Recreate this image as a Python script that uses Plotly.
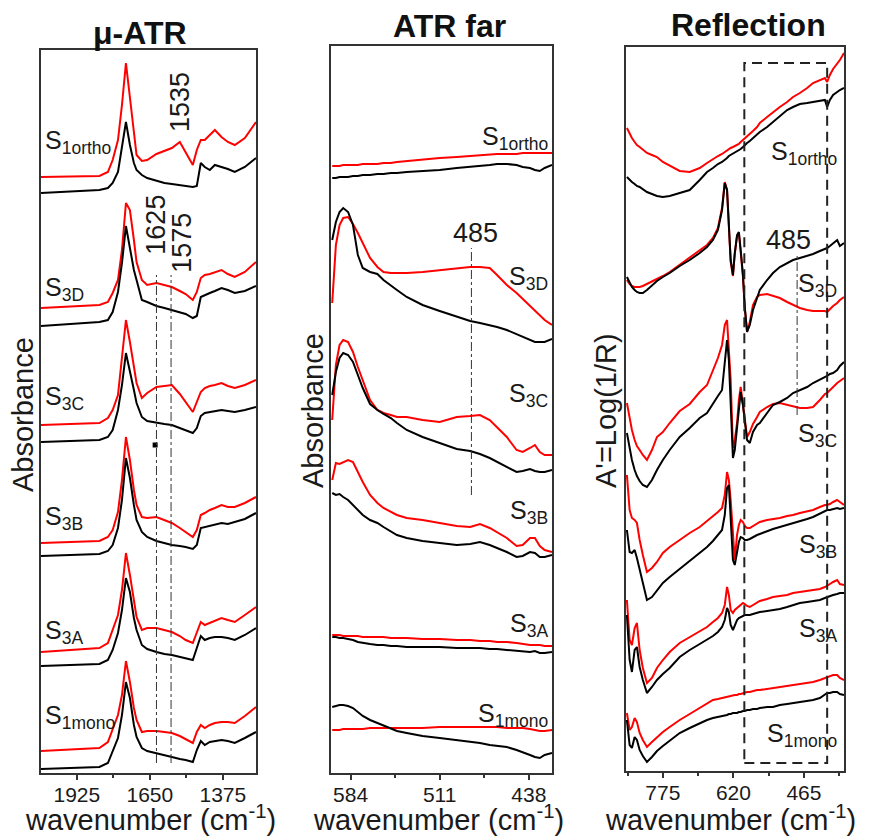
import plotly.graph_objects as go

W, H = 875, 836

# ---------------- DATA ----------------
samples = ["1ortho", "3D", "3C", "3B", "3A", "1mono"]

# Panel 1: micro-ATR (absorbance, arbitrary units incl. stacking offset)
atr_wn = [2060, 1840, 1808, 1790, 1770, 1755, 1740, 1725, 1710, 1700, 1680, 1660, 1625, 1595,
          1567, 1537, 1515, 1488, 1473, 1458, 1443, 1424, 1405, 1380, 1356, 1330, 1292, 1250]
atr_1ortho_red = [623, 624, 628, 640, 660, 695, 737, 700, 665, 645, 639, 640, 646, 649, 652, 658, 648, 635, 650, 660, 660, 665, 670, 663, 658, 655, 662, 678]
atr_1ortho_blk = [607, 610, 612, 617, 628, 655, 678, 655, 637, 630, 625, 622, 619, 617, 616, 615, 614, 613, 614, 637, 633, 630, 635, 633, 631, 628, 633, 642]
atr_3D_red = [492, 495, 498, 507, 520, 550, 597, 590, 560, 538, 520, 515, 517, 515, 513, 509, 506, 500, 508, 522, 525, 526, 528, 530, 526, 523, 528, 538]
atr_3D_blk = [474, 478, 480, 488, 508, 537, 574, 552, 530, 520, 500, 498, 494, 492, 490, 488, 486, 482, 484, 503, 505, 507, 509, 512, 510, 507, 509, 514]
atr_3C_red = [375, 377, 382, 390, 405, 440, 480, 458, 435, 417, 402, 407, 413, 414, 415, 406, 398, 388, 398, 408, 412, 414, 415, 417, 414, 412, 415, 420]
atr_3C_blk = [358, 360, 363, 370, 390, 415, 447, 430, 410, 397, 383, 379, 377, 376, 375, 372, 370, 367, 372, 384, 387, 388, 389, 390, 389, 388, 390, 393]
atr_3B_red = [257, 259, 263, 270, 288, 320, 363, 340, 310, 295, 283, 282, 283, 280, 277, 272, 268, 263, 270, 285, 287, 290, 292, 295, 293, 293, 297, 303]
atr_3B_blk = [244, 246, 249, 255, 272, 300, 342, 322, 295, 280, 268, 263, 259, 257, 255, 254, 253, 251, 255, 272, 273, 274, 275, 277, 276, 278, 281, 287]
atr_3A_red = [148, 152, 157, 170, 185, 210, 247, 225, 197, 183, 170, 172, 172, 170, 168, 164, 160, 157, 168, 178, 175, 177, 179, 182, 180, 178, 185, 193]
atr_3A_blk = [134, 136, 140, 150, 167, 190, 222, 208, 182, 170, 155, 151, 148, 146, 145, 143, 142, 140, 152, 164, 160, 162, 163, 163, 162, 160, 165, 172]
atr_1mono_red = [49, 52, 58, 70, 85, 105, 139, 118, 92, 80, 68, 69, 69, 68, 67, 64, 61, 57, 68, 75, 72, 75, 77, 78, 78, 77, 84, 93]
atr_1mono_blk = [31, 33, 37, 48, 62, 85, 118, 102, 75, 63, 52, 49, 47, 45, 43, 41, 40, 38, 50, 59, 55, 58, 59, 60, 59, 57, 62, 68]

# Panel 2: far-IR ATR
far_wn = [599, 596, 593, 590, 586, 582, 578, 574, 568, 562, 557, 551, 546, 538, 525,
          511, 497, 486, 478, 470, 464, 456, 448, 443, 437, 433, 429, 425, 419]
far_1ortho_red = [634, 634, 634, 635, 635, 635, 635, 636, 636, 636, 637, 637, 638, 639, 640, 642, 643, 644, 645, 646, 646, 646, 646, 647, 647, 647, 647, 647, 647]
far_1ortho_blk = [622, 622, 623, 623, 623, 624, 624, 625, 625, 626, 626, 627, 627, 628, 629, 630, 632, 633, 634, 635, 636, 636, 635, 633, 632, 630, 629, 632, 635]
far_3D_red = [497, 555, 575, 582, 583, 576, 567, 557, 542, 533, 528, 527, 527, 527, 528, 530, 532, 533, 533, 532, 525, 515, 507, 501, 494, 489, 484, 480, 475]
far_3D_blk = [560, 578, 588, 592, 588, 575, 545, 532, 528, 526, 520, 515, 510, 503, 495, 489, 483, 479, 477, 475, 473, 470, 466, 463, 460, 458, 458, 458, 461]
far_3C_red = [380, 435, 455, 460, 458, 448, 433, 420, 400, 390, 387, 385, 383, 383, 380, 378, 383, 384, 385, 380, 373, 363, 350, 348, 352, 355, 348, 345, 345]
far_3C_blk = [405, 428, 442, 447, 445, 438, 425, 412, 396, 390, 386, 382, 377, 370, 363, 357, 351, 349, 346, 342, 338, 333, 328, 329, 331, 329, 328, 328, 330]
far_3B_red = [320, 337, 336, 338, 340, 338, 328, 318, 305, 297, 292, 288, 285, 282, 280, 277, 274, 273, 276, 272, 268, 262, 254, 255, 262, 262, 254, 250, 248]
far_3B_blk = [307, 305, 306, 303, 300, 295, 290, 285, 280, 277, 273, 269, 265, 262, 259, 257, 255, 256, 258, 255, 252, 248, 243, 244, 248, 247, 243, 243, 245]
far_3A_red = [165, 165, 165, 164, 164, 164, 164, 163, 163, 163, 163, 162, 162, 162, 161, 161, 160, 160, 159, 159, 158, 158, 157, 156, 155, 155, 155, 154, 154]
far_3A_blk = [163, 163, 162, 162, 161, 160, 158, 157, 156, 155, 155, 154, 154, 153, 153, 153, 152, 152, 152, 151, 151, 150, 149, 148, 148, 149, 147, 147, 148]
far_1mono_red = [70, 70, 70, 71, 71, 71, 71, 71, 72, 72, 72, 72, 72, 72, 72, 73, 73, 73, 73, 73, 73, 72, 72, 72, 71, 70, 69, 69, 70]
far_1mono_blk = [93, 94, 95, 95, 94, 92, 88, 84, 80, 77, 74, 71, 69, 67, 64, 62, 60, 58, 57, 55, 54, 53, 50, 48, 45, 43, 42, 45, 47]

# Panel 3: reflection, A' = log(1/R)
ref_wn = [854, 848, 843, 837, 832, 826, 819, 810, 799, 788, 775, 760, 738, 716, 694, 678, 665,
          654, 645, 639, 634, 630, 626, 621, 617, 612, 608, 604, 599, 595, 590, 584, 577, 568,
          562, 546, 533, 518, 502, 489, 474, 458, 445, 430, 419, 414, 408, 401, 392, 386, 377]
ref_1ortho_red = [672, 666, 662, 658, 655, 653, 650, 647, 645, 643, 638, 634, 629, 628, 632, 637, 641, 644, 646, 648, 650, 651, 652, 653, 654, 655, 656, 658, 660, 661, 663, 666, 669, 673, 677, 683, 688, 693, 698, 703, 707, 712, 717, 720, 722, 718, 725, 731, 736, 740, 747]
ref_1ortho_blk = [623, 620, 618, 616, 614, 613, 611, 608, 606, 604, 603, 604, 607, 610, 620, 628, 632, 636, 638, 640, 642, 644, 645, 646, 647, 649, 650, 651, 653, 655, 657, 659, 662, 666, 668, 673, 678, 683, 690, 693, 696, 697, 698, 699, 700, 693, 700, 705, 708, 710, 712]
ref_3D_red = [520, 516, 514, 513, 513, 513, 514, 516, 519, 521, 524, 528, 535, 542, 549, 555, 562, 572, 592, 618, 610, 578, 538, 524, 546, 564, 567, 548, 523, 492, 468, 478, 495, 503, 505, 506, 504, 502, 498, 495, 492, 490, 489, 489, 489, 488, 491, 494, 497, 500, 503]
ref_3D_blk = [523, 517, 513, 510, 508, 507, 507, 510, 515, 519, 523, 527, 534, 540, 547, 553, 560, 570, 590, 617, 610, 580, 540, 525, 547, 565, 568, 550, 525, 493, 468, 475, 490, 502, 510, 520, 527, 533, 537, 540, 542, 544, 546, 549, 551, 552, 554, 557, 560, 554, 557]
ref_3C_red = [397, 380, 370, 360, 354, 350, 345, 340, 350, 363, 368, 377, 389, 396, 408, 415, 430, 442, 455, 475, 480, 455, 420, 352, 360, 377, 400, 413, 395, 380, 363, 368, 376, 383, 388, 393, 396, 397, 395, 394, 392, 392, 393, 400, 406, 407, 410, 413, 417, 419, 422]
ref_3C_blk = [367, 350, 340, 330, 324, 319, 315, 313, 320, 330, 340, 350, 363, 372, 382, 387, 397, 404, 410, 440, 460, 440, 400, 342, 350, 375, 395, 408, 395, 377, 360, 357, 368, 375, 377, 387, 395, 398, 402, 407, 410, 413, 417, 420, 423, 424, 426, 427, 430, 434, 438]
ref_3B_red = [325, 290, 282, 280, 277, 260, 245, 228, 232, 238, 247, 253, 260, 267, 273, 279, 283, 288, 292, 305, 328, 320, 300, 260, 240, 265, 275, 280, 278, 274, 272, 272, 274, 276, 278, 280, 281, 282, 284, 285, 287, 289, 290, 293, 295, 295, 296, 298, 300, 298, 295]
ref_3B_blk = [270, 248, 247, 250, 242, 230, 218, 200, 203, 210, 217, 223, 231, 239, 247, 253, 259, 265, 270, 285, 312, 315, 280, 240, 235, 250, 258, 263, 262, 260, 260, 261, 263, 265, 266, 269, 271, 273, 275, 277, 279, 281, 283, 286, 289, 290, 290, 291, 292, 291, 292]
ref_3A_red = [200, 160, 155, 172, 177, 150, 132, 117, 122, 132, 140, 148, 157, 163, 169, 173, 178, 182, 187, 195, 213, 205, 190, 187, 190, 192, 194, 196, 197, 196, 194, 193, 195, 197, 199, 201, 203, 204, 205, 207, 208, 209, 210, 211, 213, 214, 216, 218, 220, 216, 215]
ref_3A_blk = [185, 140, 128, 150, 153, 133, 120, 107, 113, 120, 126, 132, 143, 150, 156, 160, 164, 168, 173, 180, 192, 188, 175, 170, 175, 180, 182, 183, 184, 185, 185, 185, 186, 187, 188, 189, 190, 191, 193, 195, 197, 198, 199, 200, 202, 203, 204, 205, 206, 207, 207]
ref_1mono_red = [87, 70, 73, 82, 78, 67, 60, 53, 58, 63, 68, 73, 80, 86, 92, 96, 100, 101, 102, 103, 103, 104, 104, 105, 105, 105, 106, 106, 107, 107, 108, 108, 109, 110, 110, 111, 112, 113, 114, 115, 116, 117, 118, 120, 122, 123, 124, 125, 125, 122, 120]
ref_1mono_blk = [80, 55, 52, 63, 60, 50, 44, 38, 43, 49, 54, 59, 67, 72, 77, 80, 82, 83, 84, 85, 85, 86, 86, 87, 87, 87, 88, 88, 89, 89, 90, 90, 91, 91, 92, 93, 93, 95, 96, 97, 98, 99, 100, 102, 105, 107, 107, 108, 108, 106, 105]

panel_titles = ["\u03bc-ATR", "ATR far", "Reflection"]
y_titles = ["Absorbance", "Absorbance", "A'=Log(1/R)"]
x_title = "wavenumber (cm<sup>-1</sup>)"
atr_ticks = [1925, 1650, 1375]
far_ticks = [584, 511, 438]
ref_ticks = [775, 620, 465]
atr_minor = [1787.5, 1512.5]
far_minor = [547.5, 474.5]
ref_minor = [852.5, 697.5, 542.5, 387.5]

# band markers
atr_bands = [1625, 1570]
atr_band_labels = ["1625", "1575"]
atr_label_1535 = 1535
far_band = 485
ref_band = 480
ref_box_wn = [596, 414]

# ---------------- FIGURE ----------------
FONT = "Arial, Liberation Sans, sans-serif"
RED = "#ff0000"
BLK = "#000000"
TXT = "#1a1a1a"

def px(x):
    return x / W

def py(y):
    return 1 - y / H

panels = [
    dict(ax="x", ay="y", wn=atr_wn,
         red=[atr_1ortho_red, atr_3D_red, atr_3C_red, atr_3B_red, atr_3A_red, atr_1mono_red],
         blk=[atr_1ortho_blk, atr_3D_blk, atr_3C_blk, atr_3B_blk, atr_3A_blk, atr_1mono_blk]),
    dict(ax="x2", ay="y2", wn=far_wn,
         red=[far_1ortho_red, far_3D_red, far_3C_red, far_3B_red, far_3A_red, far_1mono_red],
         blk=[far_1ortho_blk, far_3D_blk, far_3C_blk, far_3B_blk, far_3A_blk, far_1mono_blk]),
    dict(ax="x3", ay="y3", wn=ref_wn,
         red=[ref_1ortho_red, ref_3D_red, ref_3C_red, ref_3B_red, ref_3A_red, ref_1mono_red],
         blk=[ref_1ortho_blk, ref_3D_blk, ref_3C_blk, ref_3B_blk, ref_3A_blk, ref_1mono_blk]),
]

fig = go.Figure()
for p in panels:
    for r, b in zip(p["red"], p["blk"]):
        fig.add_trace(go.Scatter(x=p["wn"], y=r, mode="lines", xaxis=p["ax"], yaxis=p["ay"],
                                 line=dict(color=RED, width=2), showlegend=False, hoverinfo="skip"))
        fig.add_trace(go.Scatter(x=p["wn"], y=b, mode="lines", xaxis=p["ax"], yaxis=p["ay"],
                                 line=dict(color=BLK, width=2), showlegend=False, hoverinfo="skip"))

# small square marker in panel 1
fig.add_trace(go.Scatter(x=[1630], y=[355], mode="markers", xaxis="x", yaxis="y",
                         marker=dict(symbol="square", size=5, color=BLK), showlegend=False, hoverinfo="skip"))

geom = [
    dict(xd=[41, 256], yd=[50, 773], xr=[2060, 1250], yr=[27, 750], ticks=atr_ticks, minor=atr_minor),
    dict(xd=[331, 552], yd=[46, 773], xr=[600, 419], yr=[27, 754], ticks=far_ticks, minor=far_minor),
    dict(xd=[626, 844], yd=[47, 771], xr=[856, 377], yr=[29, 753], ticks=ref_ticks, minor=ref_minor),
]

layout = dict(width=W, height=H, margin=dict(l=0, r=0, t=0, b=0),
              paper_bgcolor="white", plot_bgcolor="white",
              font=dict(family=FONT, color=TXT), showlegend=False)
for i, g in enumerate(geom):
    sfx = "" if i == 0 else str(i + 1)
    layout["xaxis" + sfx] = dict(
        domain=[px(g["xd"][0]), px(g["xd"][1])], range=g["xr"], anchor="y" + sfx,
        tickmode="array", tickvals=g["ticks"], ticktext=[str(t) for t in g["ticks"]],
        ticks="outside", ticklen=5, tickwidth=1.5, tickcolor="#333", ticklabelstandoff=-3,
        minor=dict(tickmode="array", tickvals=g["minor"], ticks="outside", ticklen=3,
                   tickwidth=1.5, tickcolor="#333", showgrid=False),
        tickfont=dict(size=21, family=FONT, color=TXT),
        showline=True, mirror=True, linecolor="#333", linewidth=1.5,
        showgrid=False, zeroline=False)
    layout["yaxis" + sfx] = dict(
        domain=[py(g["yd"][1]), py(g["yd"][0])], range=g["yr"], anchor="x" + sfx,
        showticklabels=False, ticks="", showline=True, mirror=True,
        linecolor="#333", linewidth=1.5, showgrid=False, zeroline=False)
fig.update_layout(**layout)

shapes = []
for xv, top in zip(atr_bands, [525, 525]):
    shapes.append(dict(type="line", xref="x", yref="y", x0=xv, x1=xv, y0=37, y1=top,
                       line=dict(color="#333", width=1, dash="dashdot")))
shapes.append(dict(type="line", xref="x2", yref="y2", x0=far_band, x1=far_band, y0=305, y1=552,
                   line=dict(color="#333", width=1, dash="dashdot")))
shapes.append(dict(type="line", xref="x3", yref="y3", x0=ref_band, x1=ref_band, y0=385, y1=545,
                   line=dict(color="#333", width=1, dash="dashdot")))
shapes.append(dict(type="rect", xref="x3", yref="y3", x0=ref_box_wn[0], x1=ref_box_wn[1], y0=37, y1=737,
                   line=dict(color="#222", width=2, dash="10px,6px")))
fig.update_layout(shapes=shapes)

ann = []
def add_text(text, x, y, xref="paper", yref="paper", size=27, angle=0, xanchor="center",
             yanchor="middle", color=TXT):
    ann.append(dict(text=text, x=x, y=y, xref=xref, yref=yref, xanchor=xanchor, yanchor=yanchor,
                    textangle=angle, showarrow=False, font=dict(size=size, family=FONT, color=color)))

# panel titles
for t, cx, cy in zip(panel_titles, [140, 449, 748], [33, 26, 25]):
    add_text("<b>%s</b>" % t, px(cx), py(cy), size=32, color="#111")
# x titles
for cx in [150, 438, 730]:
    add_text(x_title, px(cx), py(818), size=29)
# y titles
for t, cx, cy in zip(y_titles, [23, 313, 606], [415, 411, 411]):
    add_text(t, px(cx), py(cy), size=29, angle=-90)

# sample labels
lab_pos = [
    ("x", "y", 2052, "left", [658, 511, 402, 282, 168, 83]),
    ("x2", "y2", 421, "right", [662, 522, 405, 288, 175, 85]),
    ("x3", "y3", 388, "right", [647, 515, 365, 254, 170, 65]),
]
for ax, ay, xv, anc, ys in lab_pos:
    for s, yv in zip(samples, ys):
        add_text("S<sub>%s</sub>" % s, xv, yv, xref=ax, yref=ay, size=25, xanchor=anc)

# band labels
add_text(str(atr_label_1535), 1536, 698, xref="x", yref="y", angle=-90)
for t, xv, yv in zip(atr_band_labels, [1628, 1530], [575, 557]):
    add_text(t, xv, yv, xref="x", yref="y", angle=-90)
add_text(str(far_band), 482, 567, xref="x2", yref="y2")
add_text("485", 500, 560, xref="x3", yref="y3")
fig.update_layout(annotations=ann)

fig.write_html("out.html")
